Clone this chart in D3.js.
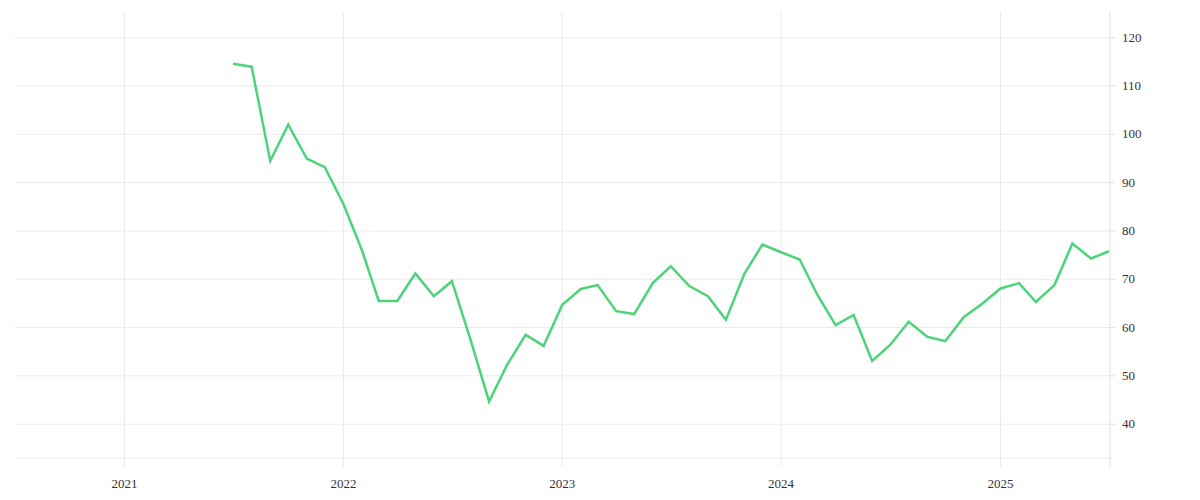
<!DOCTYPE html><html><head><meta charset="utf-8"><script src="https://cdn.jsdelivr.net/npm/d3@7"></script>
<style>body{margin:0;background:#fff}text{font-family:"Liberation Serif",serif;font-size:13px;fill:#333}</style></head><body><svg width="1200" height="500"></svg><script>
const startMonth = "2021-07";
const values = [114.6,114,94.5,102,95,93.2,85.6,76,65.5,65.5,71.2,66.5,69.6,57.5,44.7,52.3,58.5,56.2,64.7,68,68.8,63.4,62.8,69.2,72.7,68.6,66.5,61.6,71.2,77.2,75.6,74.1,66.9,60.5,62.6,53.1,56.4,61.2,58.1,57.2,62.2,64.9,68.1,69.2,65.3,68.8,77.4,74.3,75.8];
const yTicks = [40,50,60,70,80,90,100,110,120];
const xTicks = ["2021","2022","2023","2024","2025"];
const data = values.map((v,i)=>({d:new Date(2021,6+i,1),v}));
const svg=d3.select("svg");
const L=15,R=1110,T=12,B=458;
const x=d3.scaleTime().domain([new Date(2020,5,1),new Date(2025,6,1)]).range([124-219*7/12,1109]);
const y=d3.scaleLinear().domain([33,124.5]).range([458,16]);
const g=svg.append("g");
yTicks.forEach(t=>{g.append("line").attr("x1",L).attr("x2",R).attr("y1",y(t)).attr("y2",y(t)).attr("stroke","#ebebeb");
 g.append("text").attr("x",1122).attr("y",y(t)+4).text(t);});
g.append("line").attr("x1",L).attr("x2",R).attr("y1",B).attr("y2",B).attr("stroke","#ebebeb");
xTicks.forEach(t=>{const px=x(new Date(+t,0,1));g.append("line").attr("x1",px).attr("x2",px).attr("y1",T).attr("y2",467).attr("stroke","#ebebeb");
 g.append("text").attr("x",px).attr("y",488).attr("text-anchor","middle").text(t);});
g.append("line").attr("x1",R).attr("x2",R).attr("y1",T).attr("y2",467).attr("stroke","#ddd");
yTicks.forEach(t=>g.append("line").attr("x1",R).attr("x2",R+5).attr("y1",y(t)).attr("y2",y(t)).attr("stroke","#ddd"));
g.append("path").datum(data).attr("fill","none").attr("stroke","#4cd47a").attr("stroke-width",2.5)
 .attr("d",d3.line().x(d=>x(d.d)).y(d=>y(d.v)));
</script></body></html>
